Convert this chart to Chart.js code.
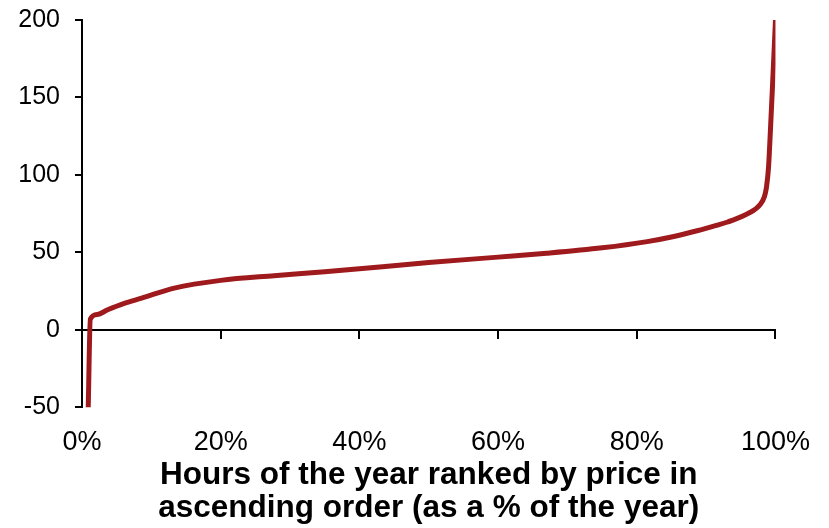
<!DOCTYPE html>
<html>
<head>
<meta charset="utf-8">
<title>Hours ranked by price</title>
<script src="https://cdn.jsdelivr.net/npm/chart.js@4.4.1/dist/chart.umd.min.js"></script>
<style>
  body { margin: 0; background: #fff; }
  #wrap { width: 829px; height: 528px; position: relative; }
</style>
</head>
<body>
<div id="wrap"><canvas id="priceCurve"></canvas></div>
<script>
// Share of hours of the year (%), sorted by price
const hourShare = [0.9, 1.2, 2.2, 3.7, 6, 8.6, 13.3, 20, 27.7, 35, 40, 50, 60, 67, 75, 81.5, 85, 88.7, 91.5, 93, 95, 96, 97.8, 98.4, 98.7, 99.0, 99.2, 99.6, 100];
// Price at that rank
const prices = [-50, 7, 10, 13, 17, 20.5, 27, 32, 35, 37.5, 39.5, 43.5, 47, 49.5, 53, 57, 60, 64, 67.5, 69.5, 73, 75, 81, 86, 92, 105, 122, 160, 200];

const yTicks = [-50, 0, 50, 100, 150, 200];
const xTicks = [0, 20, 40, 60, 80, 100];
const xTitle = ['Hours of the year ranked by price in', 'ascending order (as a % of the year)'];

const FONT = "'Liberation Sans', Arial, sans-serif";

const points = hourShare.map((x, i) => ({ x: x, y: prices[i] }));

new Chart(document.getElementById('priceCurve'), {
  type: 'line',
  data: {
    datasets: [{
      data: points,
      borderColor: '#9e1a1d',
      borderWidth: 5,
      pointRadius: 0,
      cubicInterpolationMode: 'monotone',
      fill: false,
      xAxisID: 'x',
      yAxisID: 'y'
    }]
  },
  options: {
    responsive: true,
    maintainAspectRatio: false,
    animation: false,
    layout: { padding: { left: 0, right: 51, top: 20, bottom: 0 } },
    plugins: {
      legend: { display: false },
      tooltip: { enabled: false }
    },
    scales: {
      // axis line sitting on y = 0, tick marks only
      x: {
        type: 'linear',
        min: xTicks[0],
        max: xTicks[xTicks.length - 1],
        position: { y: 0 },
        afterBuildTicks: (scale) => { scale.ticks = xTicks.map(v => ({ value: v })); },
        grid: { display: true, drawOnChartArea: false, drawTicks: true, tickLength: 8, color: '#000', lineWidth: 2 },
        border: { display: true, color: '#000', width: 2 },
        ticks: { display: false }
      },
      // labels and title at the bottom
      x2: {
        type: 'linear',
        min: xTicks[0],
        max: xTicks[xTicks.length - 1],
        position: 'bottom',
        afterBuildTicks: (scale) => { scale.ticks = xTicks.map(v => ({ value: v })); },
        grid: { display: false, drawTicks: false },
        border: { display: false },
        ticks: {
          padding: 19,
          color: '#000',
          font: { family: FONT, size: 27 },
          maxRotation: 0,
          callback: (v) => v + '%'
        },
        title: {
          display: true,
          text: xTitle,
          color: '#000',
          font: { family: FONT, size: 31.5, weight: 'bold', lineHeight: 1.05 },
          // tick padding is counted twice in the box height, so pull the title box back up
          padding: { top: -19, bottom: 3 }
        }
      },
      y: {
        type: 'linear',
        min: yTicks[0],
        max: yTicks[yTicks.length - 1],
        position: 'left',
        afterBuildTicks: (scale) => { scale.ticks = yTicks.map(v => ({ value: v })); },
        afterFit: (scale) => { scale.width = 82; },
        grid: { display: true, drawOnChartArea: false, drawTicks: true, tickLength: 7, color: '#000', lineWidth: 2 },
        border: { display: true, color: '#000', width: 2 },
        ticks: {
          padding: 15,
          color: '#000',
          // small lineHeight keeps the top label from pushing the plot down
          font: { family: FONT, size: 25, lineHeight: 0.4 }
        }
      }
    }
  }
});
</script>
</body>
</html>
